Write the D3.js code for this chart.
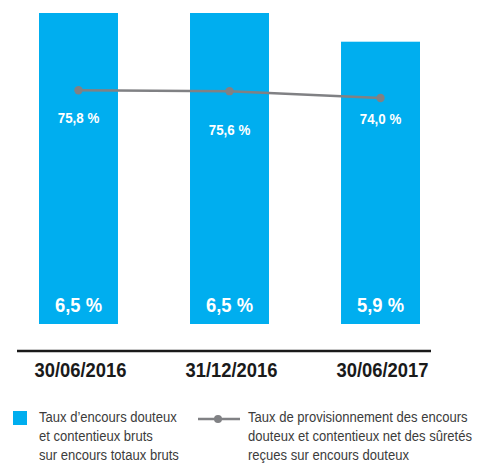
<!DOCTYPE html>
<html><head><meta charset="utf-8">
<script src="https://cdn.jsdelivr.net/npm/d3@7"></script>
<style>
html,body{margin:0;padding:0;background:#fff;}
svg{display:block;}
.cond{font-family:"Liberation Sans",Arial,Helvetica,sans-serif;}
</style></head>
<body>
<svg id="chart" width="485" height="464"></svg>
<script>
const categories = ["30/06/2016", "31/12/2016", "30/06/2017"];
const barValues = [6.5, 6.5, 5.9];
const barLabels = ["6,5 %", "6,5 %", "5,9 %"];
const lineValues = [75.8, 75.6, 74.0];
const lineLabels = ["75,8 %", "75,6 %", "74,0 %"];
const lineLabelOffsets = [33, 44, 26];
const legendBarText = ["Taux d\u2019encours douteux", "et contentieux bruts", "sur encours totaux bruts"];
const legendLineText = ["Taux de provisionnement des encours", "douteux et contentieux net des s\u00fbret\u00e9s", "re\u00e7ues sur encours douteux"];

const blue = "#00AEEF", gray = "#808184", textCol = "#3c3c3c";
const svg = d3.select("#chart");

// place a horizontally condensed text at (px, py)
function place(sel, px, py, f) {
  sel.attr("x", 0).attr("y", 0)
     .attr("transform", (d,i) => `translate(${px(d,i)},${py(d,i)}) scale(${f},1)`);
}

const x = d3.scaleBand().domain(categories).range([39, 420]).paddingInner(0.477).paddingOuter(0);
const y = d3.scaleLinear().domain([0, 6.5]).range([324, 13]);
const yl = d3.scaleLinear().domain([74.0, 75.8]).range([98, 90.3]);
const cx = (d,i) => x(categories[i]) + x.bandwidth()/2;

// bars
svg.selectAll("rect.bar").data(categories).join("rect")
  .attr("class","bar")
  .attr("x", d => x(d)).attr("width", x.bandwidth())
  .attr("y", (d,i) => y(barValues[i])).attr("height", (d,i) => y(0) - y(barValues[i]))
  .attr("fill", blue);

// bar labels
svg.selectAll("text.blab").data(barLabels).join("text")
  .attr("class","blab cond")
  .attr("text-anchor","middle").attr("fill","#fff")
  .attr("font-weight","bold").attr("font-size", 21)
  .text(d => d)
  .call(place, cx, () => 311.5, 0.875);

// line
const line = d3.line().x((d,i) => cx(d,i)).y(d => yl(d));
svg.append("path").datum(lineValues).attr("d", line)
  .attr("fill","none").attr("stroke", gray).attr("stroke-width", 2.5);
svg.selectAll("circle.pt").data(lineValues).join("circle")
  .attr("class","pt")
  .attr("cx", cx).attr("cy", d => yl(d))
  .attr("r", 4.2).attr("fill", gray);

// line labels
svg.selectAll("text.llab").data(lineValues).join("text")
  .attr("class","llab cond")
  .attr("text-anchor","middle").attr("fill","#fff")
  .attr("font-weight","bold").attr("font-size", 15.5)
  .text((d,i) => lineLabels[i])
  .call(place, cx, (d,i) => yl(d) + lineLabelOffsets[i], 0.86);

// axis
const axisG = svg.append("g").attr("transform","translate(0,351)");
axisG.append("line").attr("x1",17).attr("x2",431).attr("y1",0).attr("y2",0)
  .attr("stroke","#1a1a1a").attr("stroke-width",2.5);
axisG.selectAll("text").data(categories).join("text")
  .attr("class","cond")
  .attr("text-anchor","middle").attr("fill","#1a1a1a")
  .attr("font-weight","bold").attr("font-size", 21)
  .text(d => d)
  .call(place, (d,i) => cx(d,i) + 2, () => 25.5, 0.876);

// legend
const lg = svg.append("g");
lg.append("rect").attr("x",13).attr("y",411).attr("width",14).attr("height",14).attr("fill",blue);
lg.selectAll("text.l1").data(legendBarText).join("text")
  .attr("class","l1 cond")
  .attr("fill",textCol).attr("font-size",15).text(d=>d)
  .call(place, () => 39, (d,i) => 422 + i*19.2, 0.87);
lg.append("line").attr("x1",198).attr("x2",240).attr("y1",419).attr("y2",419)
  .attr("stroke",gray).attr("stroke-width",2.5);
lg.append("circle").attr("cx",218).attr("cy",419).attr("r",4).attr("fill",gray);
lg.selectAll("text.l2").data(legendLineText).join("text")
  .attr("class","l2 cond")
  .attr("fill",textCol).attr("font-size",15).text(d=>d)
  .call(place, () => 248, (d,i) => 422 + i*19.2, 0.87);
</script>
</body></html>
